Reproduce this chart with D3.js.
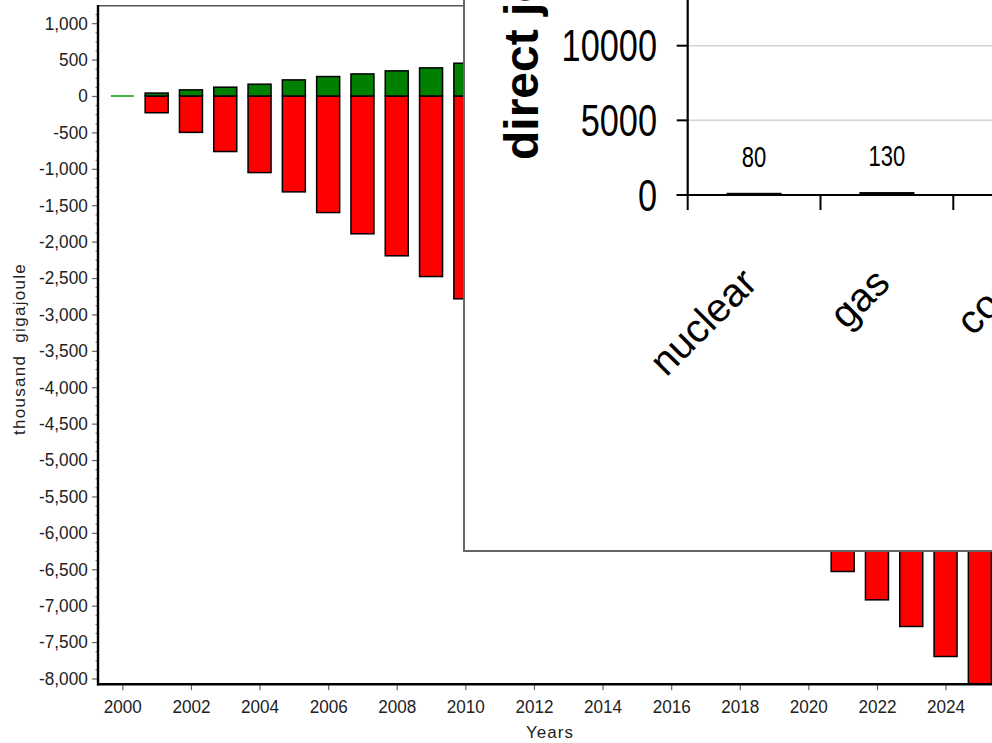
<!DOCTYPE html>
<html>
<head>
<meta charset="utf-8">
<script src="https://cdn.jsdelivr.net/npm/d3@7/dist/d3.min.js"></script>
<style>
html,body{margin:0;padding:0;background:#fff;overflow:hidden}
svg{display:block}
</style>
</head>
<body>
<svg id="chart" width="992" height="743"></svg>
<script>
// ---------- data ----------
const years          = [2000, 2001, 2002, 2003, 2004, 2005, 2006, 2007, 2008, 2009, 2010, 2021, 2022, 2023, 2024, 2025];
const positiveValues = [0, 40, 84, 121, 162, 221, 267, 303, 345, 386, 450, null, null, null, null, null];
const negativeValues = [0, -230, -500, -763, -1052, -1317, -1601, -1893, -2195, -2480, -2786, -6531, -6920, -7286, -7698, -8150];
const yTickValues    = [-8000,-7500,-7000,-6500,-6000,-5500,-5000,-4500,-4000,-3500,-3000,-2500,-2000,-1500,-1000,-500,0,500,1000];
const xTickValues    = [2000,2002,2004,2006,2008,2010,2012,2014,2016,2018,2020,2022,2024];
const yAxisTitle     = "thousand  gigajoule";
const xAxisTitle     = "Years";

const insetCategories = ["nuclear", "gas", "coal"];
const insetValues     = [80, 130, null];
const insetTicks      = [0, 5000, 10000, 15000];
const insetYTitle     = "direct jobs";

// ---------- main chart ----------
const svg = d3.select("#chart");
const L = 98, T = 5.7, B = 684.3;
const x = d3.scaleLinear().domain([1999.29, 2027]).range([L, L + 27.71 * 34.3]);
const y = d3.scaleLinear().domain([-8080, 1240]).range([B, T]);
const barW = 23;
const fmt = d => d3.format(",")(d).replace("\u2212", "-");

svg.append("defs").append("clipPath").attr("id", "plotclip")
  .append("rect").attr("x", L).attr("y", T).attr("width", 2000).attr("height", B - T);

// top border of plot
svg.append("line").attr("x1", L).attr("x2", 1100).attr("y1", T).attr("y2", T)
  .attr("stroke", "#555").attr("stroke-width", 1.5);

const data = years.map((yr, i) => ({year: yr, pos: positiveValues[i], neg: negativeValues[i]}));
const bars = svg.append("g").attr("clip-path", "url(#plotclip)");

data.forEach(d => {
  const cx = x(d.year);
  if (d.pos === 0 && d.neg === 0) {
    bars.append("line").attr("x1", cx - barW / 2).attr("x2", cx + barW / 2)
      .attr("y1", y(0)).attr("y2", y(0)).attr("stroke", "#00a000").attr("stroke-width", 1.6);
    return;
  }
  if (d.neg != null && d.neg < 0) {
    bars.append("rect").attr("x", cx - barW / 2).attr("width", barW)
      .attr("y", y(0)).attr("height", y(d.neg) - y(0))
      .attr("fill", "#ff0000").attr("stroke", "#000").attr("stroke-width", 1.5);
  }
  if (d.pos != null && d.pos > 0) {
    bars.append("rect").attr("x", cx - barW / 2).attr("width", barW)
      .attr("y", y(d.pos)).attr("height", y(0) - y(d.pos))
      .attr("fill", "#008000").attr("stroke", "#000").attr("stroke-width", 1.5);
  }
});

// y axis minor ticks
const minor = d3.range(-8000, 1240, 125).filter(v => v % 500 !== 0);
svg.append("g").attr("transform", `translate(${L},0)`)
  .call(d3.axisLeft(y).tickValues(minor).tickSize(2.5).tickFormat(""))
  .call(g => g.select(".domain").remove())
  .call(g => g.selectAll("line").attr("stroke", "#666"));

// y axis
const yAx = svg.append("g").attr("transform", `translate(${L},0)`)
  .call(d3.axisLeft(y).tickValues(yTickValues).tickFormat(fmt).tickSize(6).tickPadding(5));
yAx.select(".domain").remove();
yAx.selectAll("line").attr("stroke", "#666").attr("stroke-width", 1.2);
yAx.selectAll("text").attr("font-family", "Liberation Sans, Arial, sans-serif")
  .attr("font-size", 18.5).attr("fill", "#222").attr("transform", "scale(0.93,1)");

// x axis
const xAx = svg.append("g").attr("transform", `translate(0,${B})`)
  .call(d3.axisBottom(x).tickValues(xTickValues).tickFormat(d3.format("d")).tickSize(6).tickPadding(9));
xAx.select(".domain").remove();
xAx.selectAll("line").attr("stroke", "#666").attr("stroke-width", 1.2);
xAx.selectAll("text").attr("font-family", "Liberation Sans, Arial, sans-serif")
  .attr("font-size", 19).attr("fill", "#222").attr("transform", "scale(0.9,1)");

// axis lines
svg.append("line").attr("x1", L).attr("x2", L).attr("y1", T - 0.7).attr("y2", B + 1.2)
  .attr("stroke", "#000").attr("stroke-width", 2.4);
svg.append("line").attr("x1", L - 1).attr("x2", 1100).attr("y1", B).attr("y2", B)
  .attr("stroke", "#000").attr("stroke-width", 2.6);

// axis titles
svg.append("text").attr("x", 550).attr("y", 738).attr("text-anchor", "middle")
  .attr("font-family", "Liberation Sans, Arial, sans-serif").attr("font-size", 17)
  .attr("letter-spacing", 1).attr("fill", "#222").text(xAxisTitle);
svg.append("text").attr("transform", "translate(25,349) rotate(-90)").attr("text-anchor", "middle")
  .attr("font-family", "Liberation Sans, Arial, sans-serif").attr("font-size", 17)
  .attr("letter-spacing", 1.3).attr("fill", "#222").style("white-space", "pre").text(yAxisTitle);

// ---------- inset ----------
const inset = svg.append("g");
inset.append("rect").attr("x", 464).attr("y", -60).attr("width", 700).attr("height", 551 + 60)
  .attr("fill", "#fff").attr("stroke", "#666").attr("stroke-width", 2);

const ix0 = 687.7;
const iy = d3.scaleLinear().domain([0, 15000]).range([195, 195 - 15000 * 0.01493]);
const ix = d3.scaleBand().domain(insetCategories).range([ix0, ix0 + 3 * 132.8])
  .paddingInner(0.6).paddingOuter(0.3);

// gridlines
insetTicks.filter(v => v > 0).forEach(v => {
  inset.append("line").attr("x1", ix0).attr("x2", 1100).attr("y1", iy(v)).attr("y2", iy(v))
    .attr("stroke", "#d4d4d4").attr("stroke-width", 1.5);
});

// bars
insetCategories.forEach((c, i) => {
  const v = insetValues[i];
  if (v == null) return;
  inset.append("rect").attr("x", ix(c)).attr("width", ix.bandwidth())
    .attr("y", iy(v)).attr("height", Math.max(iy(0) - iy(v), 0.5))
    .attr("fill", "#000").attr("stroke", "#000").attr("stroke-width", 2);
  inset.append("g").attr("transform", `translate(${ix(c) + ix.bandwidth() / 2},${iy(v) - 27}) scale(0.76,1)`)
    .append("text").attr("text-anchor", "middle")
    .attr("font-family", "Liberation Sans, Arial, sans-serif").attr("font-size", 29).attr("fill", "#000")
    .text(v);
});

// axes
inset.append("line").attr("x1", ix0).attr("x2", ix0).attr("y1", -60).attr("y2", iy(0))
  .attr("stroke", "#000").attr("stroke-width", 2.2);
inset.append("line").attr("x1", ix0 - 11).attr("x2", 1100).attr("y1", iy(0)).attr("y2", iy(0))
  .attr("stroke", "#000").attr("stroke-width", 2.2);
insetTicks.forEach(v => {
  inset.append("line").attr("x1", ix0 - 11).attr("x2", ix0).attr("y1", iy(v)).attr("y2", iy(v))
    .attr("stroke", "#000").attr("stroke-width", 2);
  inset.append("g").attr("transform", `translate(657,${iy(v) + 15.5}) scale(0.78,1)`)
    .append("text").attr("text-anchor", "end")
    .attr("font-family", "Liberation Sans, Arial, sans-serif").attr("font-size", 44).attr("fill", "#000")
    .text(v);
});
const step = ix.step();
d3.range(insetCategories.length + 1).forEach(k => {
  const tx = ix0 + k * step;
  inset.append("line").attr("x1", tx).attr("x2", tx).attr("y1", iy(0)).attr("y2", iy(0) + 15)
    .attr("stroke", "#000").attr("stroke-width", 2);
});
insetCategories.forEach(c => {
  const cx = ix(c) + ix.bandwidth() / 2;
  inset.append("text").attr("transform", `translate(${cx + 5},285) rotate(-45)`)
    .attr("text-anchor", "end").attr("font-family", "Liberation Sans, Arial, sans-serif")
    .attr("font-size", 40).attr("fill", "#000").text(c);
});
inset.append("text").attr("transform", "translate(538,160) rotate(-90)")
  .attr("text-anchor", "start").attr("font-family", "Liberation Sans, Arial, sans-serif")
  .attr("font-weight", "bold").attr("font-size", 48).attr("fill", "#000").text(insetYTitle);
</script>
</body>
</html>
